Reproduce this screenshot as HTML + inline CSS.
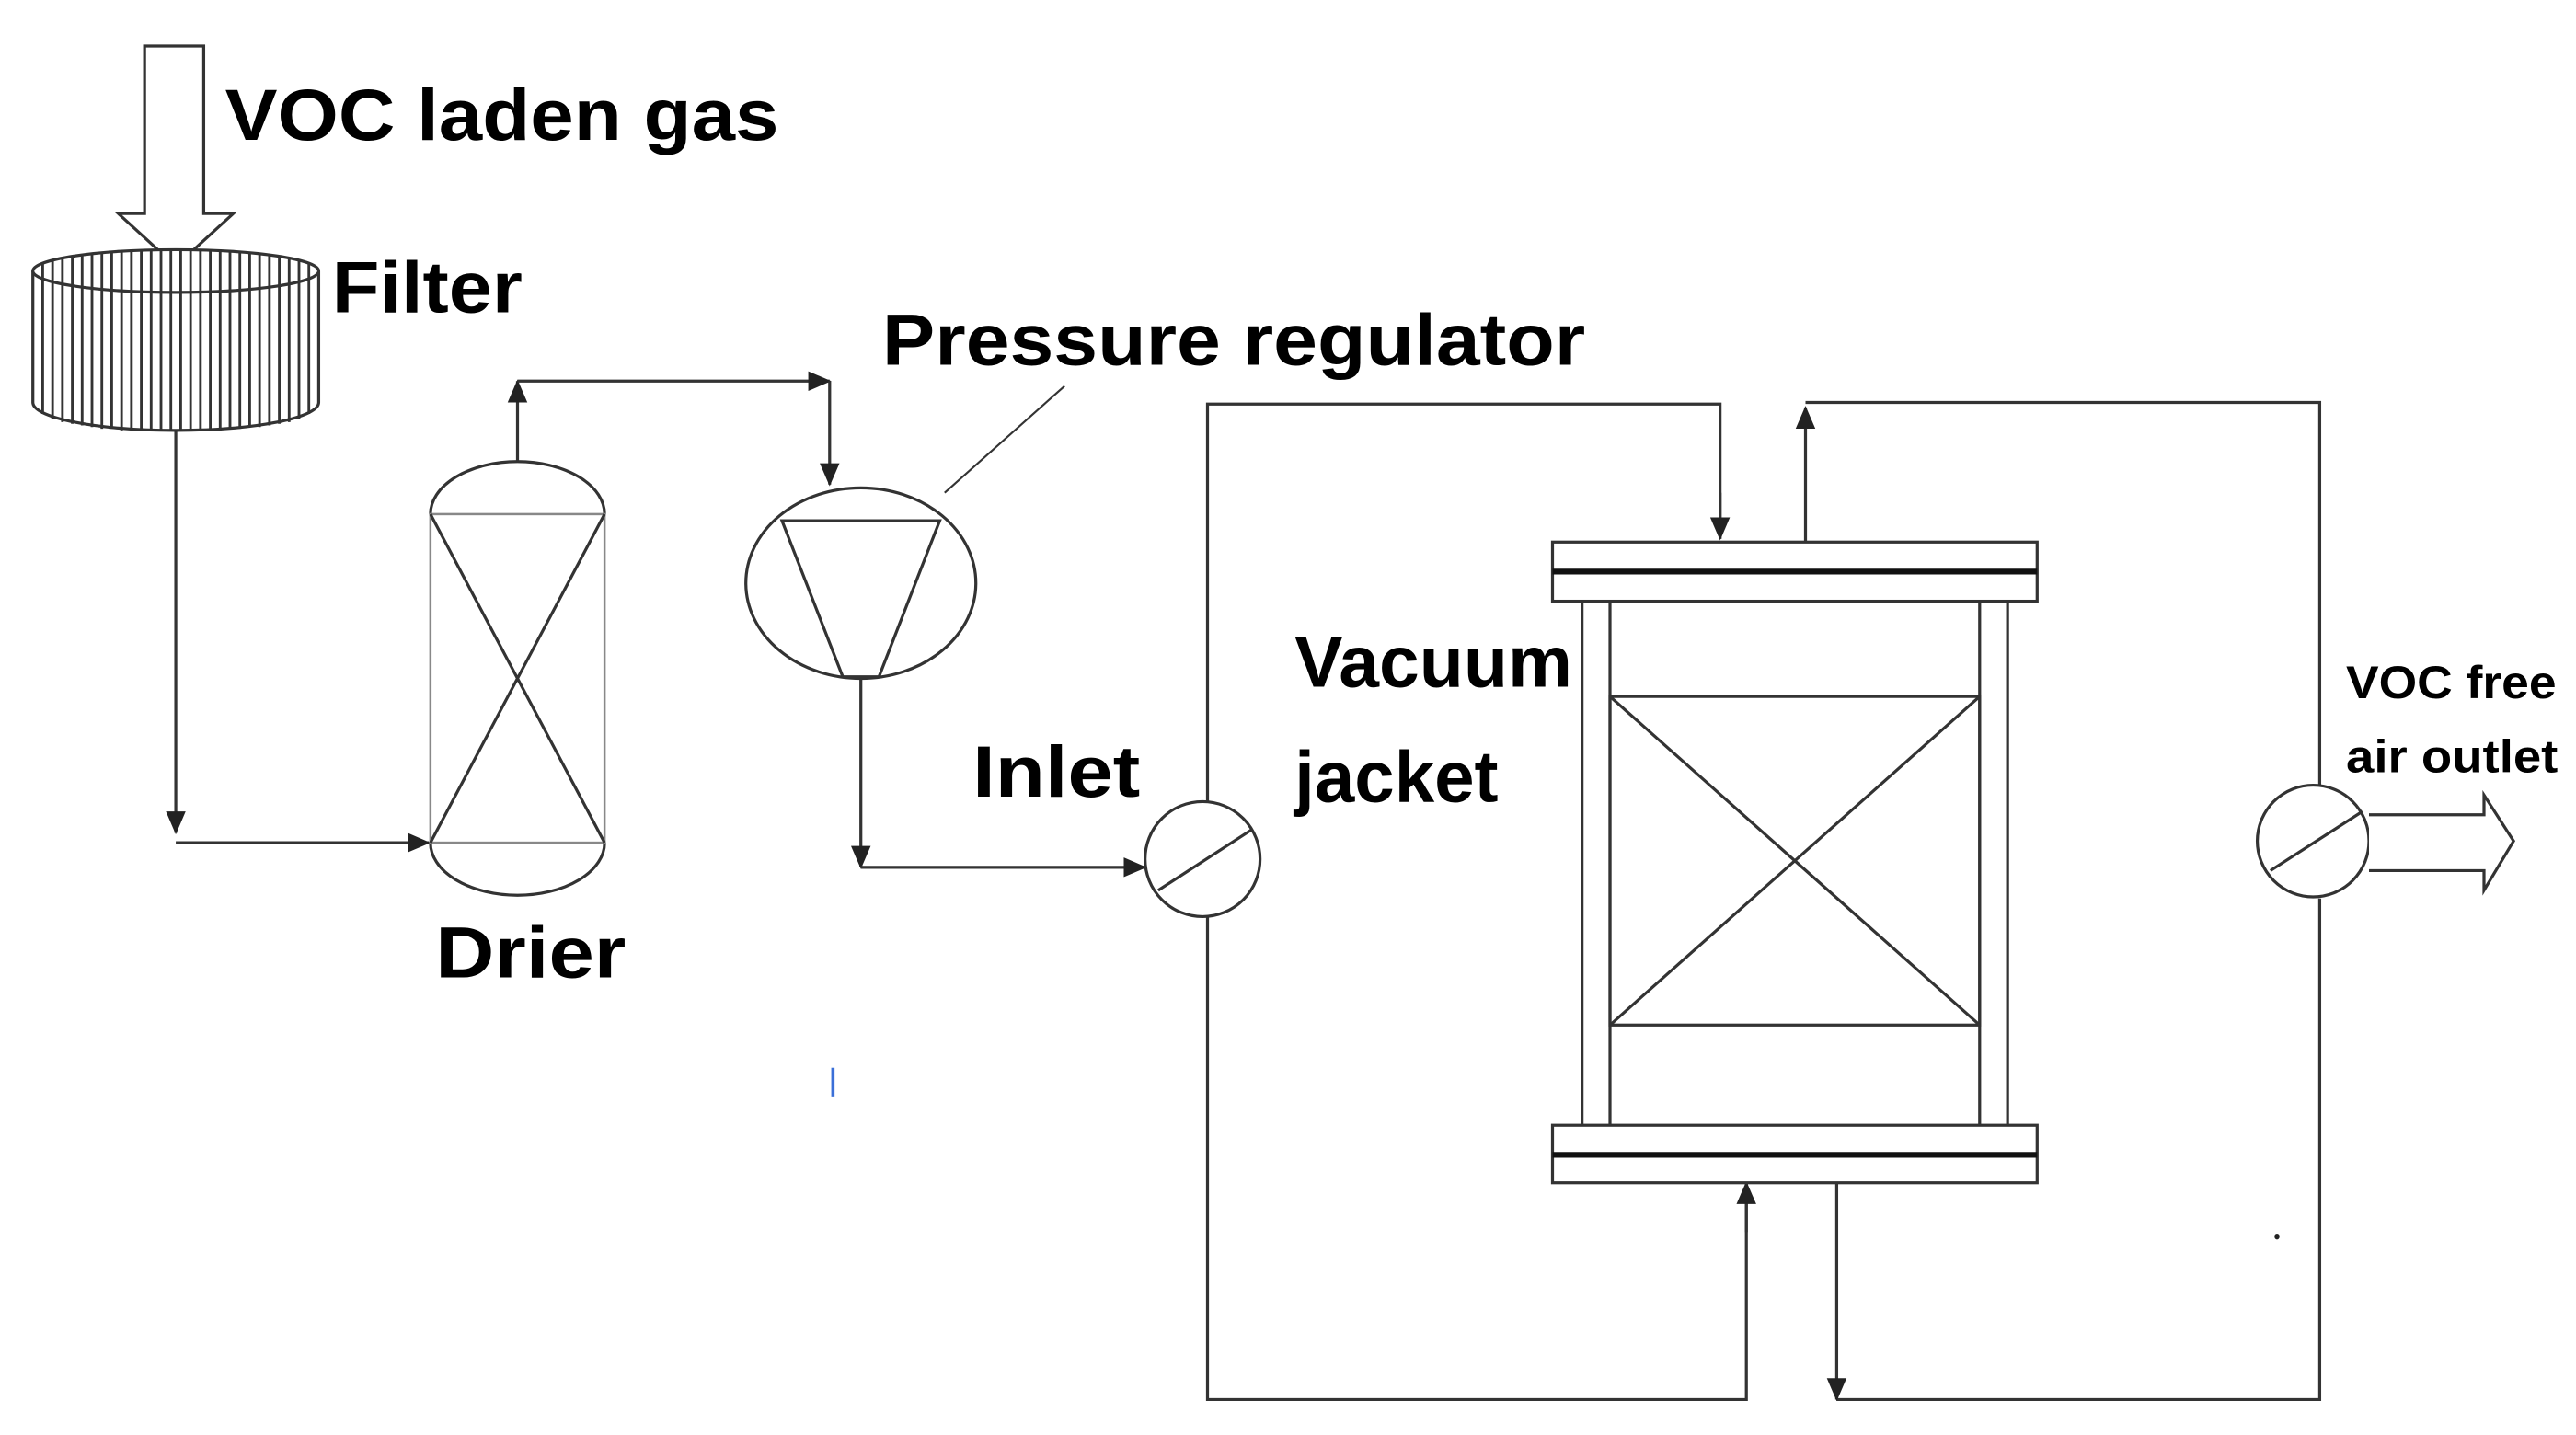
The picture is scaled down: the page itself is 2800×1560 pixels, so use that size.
<!DOCTYPE html>
<html><head><meta charset="utf-8"><style>
html,body{margin:0;padding:0;background:#fff;}
svg{display:block;}
text{font-family:"Liberation Sans","DejaVu Sans",sans-serif;font-weight:bold;fill:#000;}
</style></head><body>
<svg width="2800" height="1560" viewBox="0 0 1568 873.6" preserveAspectRatio="none" xmlns="http://www.w3.org/2000/svg">
<defs>
<marker id="b" viewBox="0 0 14 14" markerWidth="14" markerHeight="14" refX="13" refY="7" orient="auto" markerUnits="userSpaceOnUse"><path d="M0,1 L14,7 L0,13 z" fill="#222"/></marker>
</defs>
<g stroke="#333" stroke-width="1.8" fill="none">
<path d="M88,28 L124,28 L124,130 L142,130 L107,162 L72,130 L88,130 Z" fill="#fff"/>
<path d="M20,165 L20,245 A87,17 0 0 0 194,245 L194,165" fill="#fff"/>
<ellipse cx="107" cy="165" rx="87" ry="13" fill="#fff"/>
<g stroke-width="1.6">
<path d="M26,160 V252 M32,158 V255 M38,157 V257 M44,156 V258 M50,155 V259 M56,154 V260 M62,154 V261 M68,153 V261 M74,153 V262 M80,152 V262 M86,152 V262 M92,152 V262 M98,152 V262 M104,152 V262 M110,152 V262 M116,152 V262 M122,152 V262 M128,152 V262 M134,152 V262 M140,153 V261 M146,153 V261 M152,154 V260 M158,154 V260 M164,155 V259 M170,156 V258 M176,157 V257 M182,158 V255 M188,160 V252"/>
</g>
<path d="M107,262 V507" marker-end="url(#b)"/>
<path d="M107,513 H261" marker-end="url(#b)"/>
<path d="M262,313 A53,32 0 0 1 368,313" />
<path d="M262,513 A53,32 0 0 0 368,513" />
<rect x="262" y="313" width="106" height="200" stroke="#888" stroke-width="1.4"/>
<path d="M262,313 L368,513 M368,313 L262,513"/>
<path d="M315,281 V232" marker-end="url(#b)"/>
<path d="M315,232 H505" marker-end="url(#b)"/>
<path d="M505,232 V295" marker-end="url(#b)"/>
<ellipse cx="524" cy="355" rx="70" ry="58"/>
<path d="M476,317 H572 L535,412 H513 Z"/>
<path d="M575,300 L648,235" stroke-width="1.2"/>
<path d="M524,413 V528" marker-end="url(#b)"/>
<path d="M524,528 H697" marker-end="url(#b)"/>
<circle cx="732" cy="523" r="35"/>
<path d="M705,542 L762,505"/>
<path d="M735,488 V246 H1047 V328" />
<path d="M1047,300 V328" marker-end="url(#b)"/>
<path d="M735,558 V852 H1063 V720"/>
<path d="M1063,750 V720" marker-end="url(#b)"/>
<rect x="945" y="330" width="295" height="36" fill="#fff"/>
<path d="M945,348 H1240" stroke-width="3.5" stroke="#111"/>
<rect x="945" y="685" width="295" height="35" fill="#fff"/>
<path d="M945,703 H1240" stroke-width="3.5" stroke="#111"/>
<path d="M963,366 V685 M980,366 V685 M1205,366 V685 M1222,366 V685"/>
<rect x="980" y="424" width="225" height="200"/>
<path d="M980,424 L1205,624 M1205,424 L980,624"/>
<path d="M1099,330 V248" marker-end="url(#b)"/>
<path d="M1099,245 H1412 V478"/>
<path d="M1412,547 V852 H1118"/>
<path d="M1118,720 V852" marker-end="url(#b)"/>
<circle cx="1408" cy="512" r="34"/>
<path d="M1382,530 L1438,494"/>
<path d="M1442,496 H1512 V484 L1530,512 L1512,542 V530 H1442" fill="#fff"/>
</g>
<path d="M507,650 V668" stroke="#3a6fd8" stroke-width="2"/>
<circle cx="1386" cy="753" r="1.5" fill="#222"/>
<text x="137" y="85" font-size="44" textLength="337" lengthAdjust="spacingAndGlyphs">VOC laden gas</text>
<text x="202" y="190" font-size="44" textLength="116" lengthAdjust="spacingAndGlyphs">Filter</text>
<text x="537" y="222" font-size="44" textLength="428" lengthAdjust="spacingAndGlyphs">Pressure regulator</text>
<text x="265" y="595" font-size="44" textLength="116" lengthAdjust="spacingAndGlyphs">Drier</text>
<text x="592" y="485" font-size="44" textLength="102" lengthAdjust="spacingAndGlyphs">Inlet</text>
<text x="788" y="418" font-size="44" textLength="169" lengthAdjust="spacingAndGlyphs">Vacuum</text>
<text x="788" y="488" font-size="44" textLength="124" lengthAdjust="spacingAndGlyphs">jacket</text>
<text x="1428" y="425" font-size="28" textLength="128" lengthAdjust="spacingAndGlyphs">VOC free</text>
<text x="1428" y="470" font-size="28" textLength="129" lengthAdjust="spacingAndGlyphs">air outlet</text>
</svg>
</body></html>
